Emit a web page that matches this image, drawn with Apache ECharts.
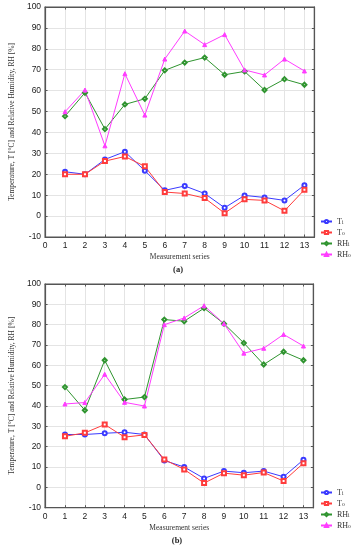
<!DOCTYPE html>
<html><head><meta charset="utf-8">
<script src="https://cdn.jsdelivr.net/npm/echarts@6/dist/echarts.min.js"></script>
<style>html,body{margin:0;padding:0;background:#fff}#c{width:356px;height:550px}</style>
</head><body><div id="c"></div>
<script>
const seriesX = [1,2,3,4,5,6,7,8,9,10,11,12,13];
const seriesNames = ['Ti','To','RHi','RHo'];
// chart (a)
const a_Ti  = [21.2, 20.0, 27.1, 30.8, 21.7, 12.3, 14.4, 10.8, 4.0, 9.9, 8.9, 7.5, 14.8];
const a_To  = [20.0, 20.0, 26.3, 28.5, 23.8, 11.5, 10.8, 8.6, 1.4, 8.0, 7.5, 2.5, 12.6];
const a_RHi = [47.8, 59.0, 41.6, 53.4, 56.1, 69.7, 73.4, 75.8, 67.6, 69.2, 60.3, 65.5, 62.8];
const a_RHo = [49.9, 60.3, 33.6, 68.1, 48.3, 75.1, 88.5, 82.0, 86.8, 69.9, 67.5, 75.1, 69.4];
// chart (b)
const b_Ti  = [26.0, 26.0, 26.6, 27.1, 26.0, 13.2, 10.0, 4.4, 8.0, 7.2, 8.0, 5.2, 13.6];
const b_To  = [25.1, 26.8, 30.9, 24.7, 25.8, 13.7, 8.8, 2.1, 7.0, 6.0, 7.3, 3.1, 11.9];
const b_RHi = [49.3, 37.9, 62.5, 43.2, 44.4, 82.5, 81.7, 88.1, 80.5, 71.0, 60.4, 66.7, 62.5];
const b_RHo = [41.0, 41.7, 55.6, 41.8, 40.0, 80.0, 83.3, 89.3, 80.5, 66.0, 68.4, 75.2, 69.5];
const xMin = 0, xMax = 13.5, xStep = 1;
const yMin = -10, yMax = 100, yStep = 10;
const yTitle = 'Temperature, T [°C] and Relative Humidity, RH [%]';
const xTitle = 'Measurement series';
const panelLabels = ['(a)', '(b)'];

const serif = 'Liberation Serif';
const sans = 'Liberation Sans';
const axisCol = '#555';
const gridCol = '#e4e4e4';

const styles = {
  Ti:  {color:'#3a3aff', symbol:'emptyCircle', size:4},
  To:  {color:'#ff3c3c', symbol:'emptyRect', size:4},
  RHi: {color:'#2f942f', symbol:'emptyDiamond', size:4},
  RHo: {color:'#ff3cff', symbol:'triangle', size:4}
};

function pairs(arr){ return seriesX.map((x,i)=>[x, arr[i]]); }

const lineCommon = {show:true, onZero:false, lineStyle:{color:axisCol, width:1.2}};
const tickCommon = {show:true, inside:true, length:2.5, lineStyle:{color:axisCol}};

function mainX(gi){
  return {type:'value', gridIndex:gi, min:xMin, max:xMax, interval:xStep,
    name:xTitle, nameLocation:'middle', nameGap:16,
    nameTextStyle:{fontFamily:serif, fontSize:7.5, color:'#333'},
    axisLine:lineCommon, axisTick:tickCommon,
    axisLabel:{fontFamily:sans, fontSize:8.5, color:'#222', margin:4,
      formatter:v=> Number.isInteger(v) ? String(v) : ''},
    splitLine:{show:true, lineStyle:{color:gridCol, width:1}}};
}
function mainY(gi, gap){
  return {type:'value', gridIndex:gi, min:yMin, max:yMax, interval:yStep,
    name:yTitle, nameLocation:'middle', nameGap:gap,
    nameTextStyle:{fontFamily:serif, fontSize:7.5, color:'#333'},
    axisLine:lineCommon, axisTick:tickCommon,
    axisLabel:{fontFamily:sans, fontSize:8.5, color:'#222', margin:4},
    splitLine:{show:true, lineStyle:{color:gridCol, width:1}}};
}
function mirrorX(gi){
  return {type:'value', gridIndex:gi, position:'top', min:xMin, max:xMax, interval:xStep,
    axisLine:lineCommon, axisTick:tickCommon,
    axisLabel:{show:false}, splitLine:{show:false}};
}
function mirrorY(gi){
  return {type:'value', gridIndex:gi, position:'right', min:yMin, max:yMax, interval:yStep,
    axisLine:lineCommon, axisTick:tickCommon,
    axisLabel:{show:false}, splitLine:{show:false}};
}
function mk(name, arr, gi){
  const s = styles[name];
  return {type:'line', name:name, xAxisIndex:gi, yAxisIndex:gi, data:pairs(arr),
    symbol:s.symbol, symbolSize:s.size, showSymbol:true,
    lineStyle:{color:s.color, width:1}, itemStyle:{color:s.color, borderColor:s.color, borderWidth:1},
    animation:false};
}
function legend(top){
  return {orient:'vertical', left:315, top:top, itemWidth:11, itemHeight:4, itemGap:2,
    data:seriesNames,
    formatter:n=> n.replace(/^(T|RH)(.)$/, '$1{sub|$2}'),
    textStyle:{fontFamily:serif, fontSize:8, color:'#333', lineHeight:9,
      rich:{sub:{fontFamily:serif, fontSize:5.5, color:'#333', lineHeight:4, verticalAlign:'bottom'}}}};
}

const chart = echarts.init(document.getElementById('c'), null, {renderer:'canvas'});
chart.setOption({
  animation:false,
  backgroundColor:'#fff',
  grid:[
    {left:35, top:7, width:279.4, height:230, show:true, borderColor:axisCol, borderWidth:1.2, containLabel:false},
    {left:38, top:284, width:275.4, height:223.7, show:true, borderColor:axisCol, borderWidth:1.2, containLabel:false}
  ],
  xAxis:[mainX(0), mainX(1), mirrorX(0), mirrorX(1)],
  yAxis:[mainY(0, 19), mainY(1, 20), mirrorY(0), mirrorY(1)],
  legend:[legend(212), legend(483)],
  graphic:[
    {type:'text', x:178, y:270, style:{text:panelLabels[0], font:'bold 8.5px "Liberation Serif"', fill:'#222', textAlign:'center', textVerticalAlign:'middle'}},
    {type:'text', x:177, y:540.5, style:{text:panelLabels[1], font:'bold 8.5px "Liberation Serif"', fill:'#222', textAlign:'center', textVerticalAlign:'middle'}}
  ],
  series:[
    mk('Ti', a_Ti, 0), mk('To', a_To, 0), mk('RHi', a_RHi, 0), mk('RHo', a_RHo, 0),
    mk('Ti', b_Ti, 1), mk('To', b_To, 1), mk('RHi', b_RHi, 1), mk('RHo', b_RHo, 1)
  ]
});
</script>
</body></html>
